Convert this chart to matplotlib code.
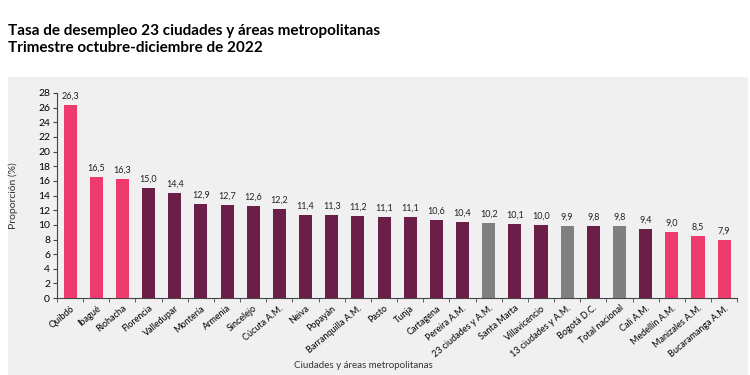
import matplotlib.pyplot as plt
import matplotlib.patches as mpatches
import numpy as np

ciudades = ['Quibdó', 'Ibagué', 'Riohacha', 'Florencia', 'Valledupar', 'Montería',
            'Armenia', 'Sincelejo', 'Cúcuta A.M.', 'Neiva', 'Popayán',
            'Barranquilla A.M.', 'Pasto', 'Tunja', 'Cartagena', 'Pereira A.M.',
            '23 ciudades y A.M.', 'Santa Marta', 'Villavicencio', '13 ciudades y A.M.',
            'Bogotá D.C.', 'Total nacional', 'Cali A.M.', 'Medellín A.M.',
            'Manizales A.M.', 'Bucaramanga A.M.']
tasa = [26.3, 16.5, 16.3, 15.0, 14.4, 12.9, 12.7, 12.6, 12.2, 11.4, 11.3, 11.2,
        11.1, 11.1, 10.6, 10.4, 10.2, 10.1, 10.0, 9.9, 9.8, 9.8, 9.4, 9.0, 8.5, 7.9]
# p = pink (extremes), m = maroon, g = aggregates
grupo = ['p', 'p', 'p', 'm', 'm', 'm', 'm', 'm', 'm', 'm', 'm', 'm', 'm', 'm',
         'm', 'm', 'g', 'm', 'm', 'g', 'm', 'g', 'm', 'p', 'p', 'p']

colores = {'p': '#ee3a6d', 'm': '#6b1e47', 'g': '#7f7f7f'}
bg = '#f0f0f0'

plt.rcParams['font.family'] = ['Lato', 'DejaVu Sans']

fig = plt.figure(figsize=(7.5, 3.75), dpi=100)
fig.patch.set_facecolor('white')
fig.patches.append(mpatches.Rectangle((8 / 750, 0), 740 / 750, 1 - 77 / 375,
                                      transform=fig.transFigure, facecolor=bg,
                                      edgecolor='none', zorder=-10))

ax = fig.add_axes([0.076, 0.205, 0.907, 0.547])
ax.set_facecolor(bg)

x = np.arange(len(ciudades))
ax.bar(x, tasa, width=0.5, color=[colores[g] for g in grupo], zorder=3)
for xi, v in zip(x, tasa):
    ax.text(xi, v + 0.6, f'{v:.1f}'.replace('.', ','), ha='center', va='bottom',
            fontsize=6.5, color='#222222')

ax.set_xlim(-0.42, len(ciudades) - 0.62)
ax.set_ylim(0, 28)
ax.set_yticks(range(0, 29, 2))
ax.tick_params(axis='y', labelsize=7.5, length=3, color='#444444', pad=2)
ax.set_xticks(x)
ax.set_xticklabels(ciudades, rotation=40, ha='right', rotation_mode='anchor',
                   fontsize=6.5)
ax.tick_params(axis='x', length=0, pad=4)
ax.set_xticks(np.arange(-0.5, len(ciudades), 1), minor=True)
ax.tick_params(axis='x', which='minor', length=3, color='#444444')

for s in ['top', 'right']:
    ax.spines[s].set_visible(False)
for s in ['left', 'bottom']:
    ax.spines[s].set_color('#444444')
    ax.spines[s].set_linewidth(0.8)

ax.set_ylabel('Proporción (%)', fontsize=7.5, color='#333333')
ax.yaxis.set_label_coords(-0.058, 0.5)
ax.set_xlabel('Ciudades y áreas metropolitanas', fontsize=7, color='#333333')
ax.xaxis.set_label_coords(0.45, -0.305)

fig.text(8 / 750, 1 - 31 / 375, 'Tasa de desempleo 23 ciudades y áreas metropolitanas',
         fontsize=11, fontweight='bold', va='center', ha='left')
fig.text(8 / 750, 1 - 48 / 375, 'Trimestre octubre-diciembre de 2022',
         fontsize=11, fontweight='bold', va='center', ha='left')

fig.savefig('out.png', dpi=100, facecolor='white')
